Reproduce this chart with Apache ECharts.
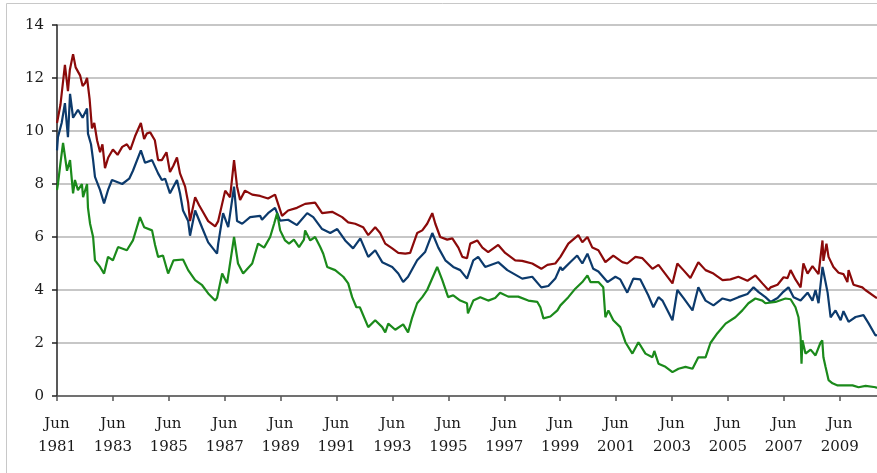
<!DOCTYPE html>
<html>
<head>
<meta charset="utf-8">
<script src="https://cdn.jsdelivr.net/npm/echarts@6/dist/echarts.min.js"></script>
<style>
html,body{margin:0;padding:0;background:#fff;}
#chart{width:877px;height:473px;}
</style>
</head>
<body>
<div id="chart"></div>
<script>
// x values: months since June 1981
const xTickMonths = [0,24,48,72,96,120,144,168,192,216,240,264,288,312,336];
const yTicks = [0,2,4,6,8,10,12,14];

const redMonths = [0,1.5,3.4,4.7,5.5,6.9,8,9.9,11,12,12.9,14,15,16,17.2,18.5,19.5,20.6,22,24,26,28,30,31.5,33.5,36,37.4,38.5,40,42,43.4,45,47,48.5,50,51.5,52.8,55,56.3,57.1,59.3,61,62.3,64.9,67.9,69.2,72.2,74.3,76,77.3,78.6,80.7,83.8,87.2,88,90.6,93.6,96.6,99.2,103,106.5,110.8,113.8,118.1,122.4,125,128,131.4,133.6,136.6,138.7,140.9,143.9,146.5,149.5,151.6,154.6,156.8,158.9,161.1,162.4,164.5,167.5,169.7,172.3,174,176,177.4,180.4,182.6,185.1,189.4,192.4,196.7,199.7,204,207.9,210.5,213.9,216.1,219.5,223.8,225.5,227.7,229.8,232.4,235.4,238.8,242.7,244.8,248.3,251.3,255.6,258.2,259.9,264.2,266.3,268.9,271.9,275.3,278.4,281.8,285.7,289.1,292.5,296.4,299.8,302.8,305.4,306.3,309.3,311.9,313.6,314.9,317,319.2,320.4,322.2,324.3,326.9,328.6,329,330.3,331.2,333.3,335.5,337.6,339.3,339.8,341.9,345.7,347,351.3,352];
const redValues = [10.3,11.0,12.5,11.5,12.3,12.9,12.4,12.1,11.7,11.8,12.0,11.2,10.1,10.3,9.65,9.2,9.5,8.6,9.0,9.3,9.1,9.4,9.5,9.3,9.8,10.3,9.7,9.9,9.95,9.65,8.9,8.9,9.2,8.45,8.7,9.0,8.4,7.9,7.3,6.6,7.5,7.2,7.0,6.6,6.4,6.6,7.75,7.5,8.9,7.9,7.4,7.75,7.6,7.55,7.5,7.45,7.6,6.8,7.0,7.1,7.25,7.3,6.9,6.95,6.75,6.55,6.5,6.37,6.07,6.37,6.15,5.75,5.57,5.4,5.37,5.4,6.15,6.25,6.5,6.9,6.5,6.0,5.9,5.95,5.6,5.25,5.2,5.75,5.87,5.6,5.43,5.7,5.4,5.12,5.1,5.0,4.8,4.95,5.0,5.25,5.75,6.07,5.8,6.0,5.6,5.5,5.05,5.3,5.05,5.0,5.25,5.2,4.8,4.95,4.75,4.25,5.0,4.75,4.45,5.05,4.75,4.62,4.37,4.4,4.5,4.35,4.55,4.25,4.0,4.1,4.2,4.48,4.45,4.75,4.4,4.1,5.0,4.62,4.9,4.6,5.87,5.1,5.75,5.25,4.87,4.65,4.6,4.3,4.75,4.2,4.1,4.0,3.73,3.7];

const blueMonths = [0,0.4,2,3.4,4.7,5.6,6.9,9,11,12.9,13.3,14.6,15.5,16.3,18.5,20.2,22,23.6,28,31,32.6,36,37.8,40.8,43.4,45,46.4,48.5,51.5,52.8,54.1,56.3,57.1,59.3,62.3,64.9,68.7,69.2,71.3,73.5,76,77.3,79.5,82.9,87.2,88,90.6,93.6,95.8,99.2,103,107.4,110,113.8,117.3,120.3,123.7,127.1,130.2,133.6,136.6,139.6,143.9,146.5,148.6,150.7,154.6,158,161.1,163.7,166.7,170.1,173.1,176,178.7,180.8,183.8,189.4,193.3,199.7,204,207.9,210.9,213.9,216.1,216.9,220.3,223.3,225.5,227.7,230.2,232.4,236.3,239.7,241.8,244.8,247.4,250.4,253.8,256,258.2,259.9,264.2,266.3,268.9,272.8,275.3,278.4,281.8,285.7,289.1,292.5,296.4,299,301.2,304.1,306.3,309.3,311.4,314,316.2,319.2,322.2,324.3,325.6,326.9,328.6,329.9,330.8,332.1,334.2,336.4,337.6,339.8,342.8,346.2,348.4,351.3,352];
const blueValues = [9.27,9.77,10.3,11.05,9.77,11.4,10.5,10.8,10.5,10.85,9.9,9.5,8.9,8.27,7.77,7.27,7.8,8.15,8.0,8.2,8.5,9.27,8.8,8.9,8.4,8.15,8.2,7.65,8.15,7.65,7.0,6.6,6.05,7.0,6.35,5.8,5.37,5.75,6.9,6.37,7.9,6.6,6.5,6.75,6.8,6.65,6.9,7.1,6.62,6.65,6.45,6.9,6.75,6.3,6.15,6.3,5.87,5.57,5.95,5.25,5.5,5.05,4.87,4.62,4.3,4.5,5.12,5.43,6.15,5.6,5.12,4.87,4.75,4.43,5.12,5.25,4.87,5.05,4.75,4.43,4.5,4.1,4.15,4.43,4.87,4.75,5.05,5.3,5.0,5.37,4.8,4.7,4.3,4.5,4.4,3.9,4.43,4.4,3.8,3.35,3.73,3.6,2.86,4.0,3.7,3.23,4.1,3.6,3.42,3.68,3.6,3.73,3.85,4.1,3.92,3.73,3.55,3.7,3.9,4.1,3.73,3.6,3.9,3.6,4.0,3.5,4.87,4.3,3.9,2.97,3.23,2.86,3.2,2.8,2.98,3.05,2.74,2.29,2.3];

const greenMonths = [0,0.4,1.5,2.6,4.3,5.6,6.9,7.7,9,10.7,11.2,12.9,13.3,14.2,15.5,16.3,18.5,20.2,21.9,24,26.2,30,32.6,35.6,37.4,40.8,42.1,43.4,45.5,47.7,50,54.1,56.3,59.3,62.3,64.9,67.9,68.7,70.9,73,76,77.7,79.9,83.8,86.3,88.9,91.5,93.2,94.5,95.8,97.9,99.6,101.7,103.9,106,106.5,108.7,110.8,113,114.3,116,119.4,122.9,125,126.7,128.5,130,133.6,136.6,139.6,140.9,142.2,145.2,148.6,150.7,152.5,154.6,156.8,158.9,163.2,165.4,167.9,170.1,173.1,176,176.4,178.7,181.7,185.1,188.1,190.2,193.7,198,202.3,206.2,207.5,208.8,211.8,214.8,216.1,219.5,222.5,225.5,227.7,229,232.4,234.5,235.4,236.7,238.8,241.8,244,247,249.6,252.6,255.6,256.4,258.2,261.2,264.2,266.8,269.8,272.8,275.3,278.4,280.5,283.5,287,291.2,294.2,296.8,299.8,302.8,304.1,308.4,312.7,314.9,317,318.3,319.2,319.6,320,321.3,323.5,325.6,327.7,328.5,329,329.9,331.2,332.9,333.3,335.1,341.5,344.1,347.1,351.4,352];
const greenValues = [7.77,8.0,8.8,9.55,8.5,8.9,7.65,8.15,7.77,8.0,7.5,8.0,7.1,6.5,6.0,5.12,4.87,4.62,5.25,5.12,5.62,5.5,5.87,6.75,6.37,6.25,5.7,5.25,5.3,4.62,5.12,5.15,4.75,4.37,4.18,3.87,3.6,3.7,4.62,4.25,6.0,5.0,4.62,5.0,5.75,5.6,6.0,6.5,6.9,6.25,5.87,5.75,5.9,5.62,5.9,6.25,5.87,6.0,5.62,5.37,4.87,4.75,4.5,4.25,3.73,3.35,3.35,2.6,2.86,2.6,2.4,2.73,2.5,2.7,2.4,2.97,3.5,3.73,4.0,4.87,4.37,3.73,3.8,3.6,3.5,3.12,3.6,3.73,3.6,3.7,3.9,3.75,3.75,3.6,3.55,3.35,2.93,3.0,3.23,3.42,3.73,4.05,4.3,4.55,4.3,4.3,4.1,2.97,3.23,2.86,2.6,2.03,1.6,2.03,1.6,1.46,1.7,1.22,1.1,0.9,1.03,1.1,1.03,1.46,1.46,2.0,2.37,2.73,2.97,3.23,3.5,3.68,3.6,3.5,3.55,3.68,3.65,3.35,2.97,2.22,1.22,2.1,1.6,1.75,1.53,2.0,2.1,1.46,1.1,0.6,0.48,0.55,0.4,0.4,0.33,0.38,0.33,0.3];

function pairs(xs, ys){ return xs.map((x,i)=>[x, ys[i]]); }

const chart = echarts.init(document.getElementById('chart'), null, {renderer:'canvas'});
const labelFont = {fontFamily:'DejaVu Serif', fontSize:15, color:'#1a1a1a'};

chart.setOption({
  animation:false,
  backgroundColor:'#ffffff',
  graphic:[{
    type:'rect', silent:true, z:-1,
    shape:{x:6.5, y:3.5, width:900, height:520},
    style:{fill:'none', stroke:'#c8c8c8', lineWidth:1}
  }],
  grid:{left:57, right:0, top:25, bottom:77, containLabel:false},
  xAxis:{
    type:'value', min:0, max:352, interval:24,
    splitLine:{show:false},
    axisLine:{show:true, onZero:false, lineStyle:{color:'#555555', width:1.5}},
    axisTick:{show:true, inside:false, length:5, customValues:xTickMonths, lineStyle:{color:'#555555', width:1.5}},
    axisLabel:{show:true, margin:17, customValues:xTickMonths, lineHeight:23, ...labelFont,
      formatter:function(v){ return 'Jun\n' + (1981 + Math.round(v/12)); }}
  },
  yAxis:{
    type:'value', min:0, max:14, interval:2,
    splitLine:{show:true, lineStyle:{color:'#b4b4b4', width:1.5}},
    axisLine:{show:true, lineStyle:{color:'#222222', width:1.5}},
    axisTick:{show:true, inside:false, length:5, lineStyle:{color:'#222222', width:1.5}},
    axisLabel:{margin:13, ...labelFont, formatter:function(v){return String(v);}}
  },
  series:[
    {type:'line', name:'red', data:pairs(redMonths, redValues), showSymbol:false, symbol:'none',
      lineStyle:{color:'#8b0a0a', width:2.2}, z:3},
    {type:'line', name:'blue', data:pairs(blueMonths, blueValues), showSymbol:false, symbol:'none',
      lineStyle:{color:'#0c3a6c', width:2.2}, z:4},
    {type:'line', name:'green', data:pairs(greenMonths, greenValues), showSymbol:false, symbol:'none',
      lineStyle:{color:'#1b8a1b', width:2.2}, z:5}
  ]
});
</script>
</body>
</html>
